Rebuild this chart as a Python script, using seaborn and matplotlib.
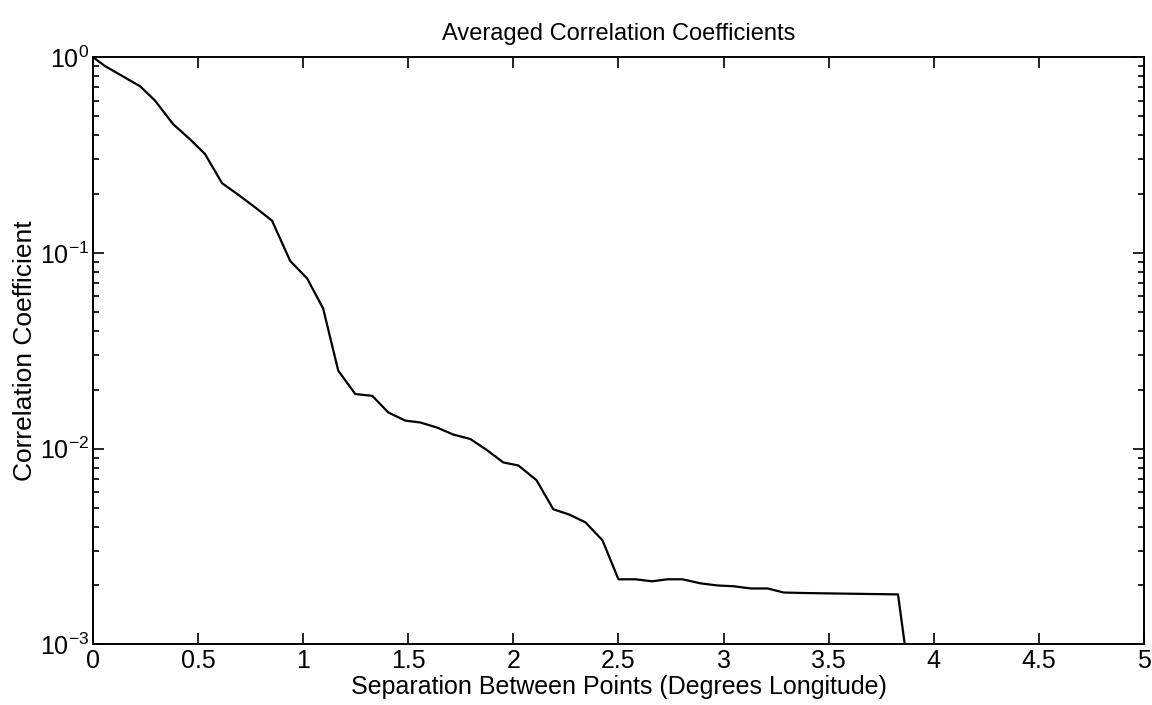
import numpy as np
import pandas as pd
import matplotlib
matplotlib.use("Agg")
import matplotlib.pyplot as plt
import seaborn as sns
from matplotlib.ticker import LogLocator, FixedFormatter, FixedLocator

# Data
separation = [0.0, 0.057, 0.224, 0.295, 0.381, 0.462, 0.533, 0.614, 0.70, 0.78, 0.852,
              0.938, 1.019, 1.095, 1.167, 1.248, 1.329, 1.405, 1.486, 1.557, 1.638,
              1.714, 1.795, 1.876, 1.952, 2.024, 2.11, 2.19, 2.267, 2.343, 2.424,
              2.50, 2.58, 2.66, 2.733, 2.805, 2.89, 2.97, 3.05, 3.13, 3.21, 3.286,
              3.38, 3.52, 3.83, 3.90]
correlation = [1.0, 0.90, 0.71, 0.60, 0.455, 0.38, 0.32, 0.227, 0.195, 0.168, 0.146,
               0.091, 0.074, 0.052, 0.025, 0.019, 0.0186, 0.0153, 0.0139, 0.0136, 0.0128,
               0.0118, 0.0112, 0.0098, 0.0085, 0.0082, 0.0069, 0.0049, 0.0046, 0.0042, 0.0034,
               0.00215, 0.00215, 0.0021, 0.00215, 0.00215, 0.00205, 0.0020, 0.00198, 0.00193,
               0.00193, 0.00184, 0.00183, 0.00182, 0.0018, 0.0005]
x_ticks = [0, 0.5, 1, 1.5, 2, 2.5, 3, 3.5, 4, 4.5, 5]
x_tick_labels = ["0", "0.5", "1", "1.5", "2", "2.5", "3", "3.5", "4", "4.5", "5"]
y_ticks = [1e-3, 1e-2, 1e-1, 1e0]
y_tick_labels = ["10$^{-3}$", "10$^{-2}$", "10$^{-1}$", "10$^{0}$"]

sns.set_style("ticks")
plt.rcParams['font.family'] = ['Liberation Sans', 'DejaVu Sans']
plt.rcParams['mathtext.fontset'] = 'custom'
plt.rcParams['mathtext.rm'] = 'Liberation Sans'
plt.rcParams['mathtext.it'] = 'Liberation Sans'
plt.rcParams['text.color'] = 'black'
plt.rcParams['axes.labelcolor'] = 'black'

df = pd.DataFrame({"sep": separation, "corr": correlation})

fig = plt.figure(figsize=(11.52, 7.05), dpi=100)
ax = fig.add_axes([0.0807, 0.0860, 0.9123, 0.833])
sns.lineplot(data=df, x="sep", y="corr", ax=ax, color="black", linewidth=1.6,
             estimator=None, sort=False)
ax.set_yscale("log")
ax.set_xlim(0, 5)
ax.set_ylim(1e-3, 1e0)

ax.xaxis.set_major_locator(FixedLocator(x_ticks))
ax.xaxis.set_major_formatter(FixedFormatter(x_tick_labels))
ax.yaxis.set_major_locator(FixedLocator(y_ticks))
ax.yaxis.set_major_formatter(FixedFormatter(y_tick_labels))
ax.yaxis.set_minor_locator(LogLocator(base=10, subs=np.arange(2, 10), numticks=20))

ax.tick_params(which="both", direction="in", top=True, right=True, colors="black",
               width=1.2)
ax.tick_params(which="major", length=8, labelsize=18, pad=3)
ax.tick_params(which="minor", length=4.5)
for s in ax.spines.values():
    s.set_color("black")
    s.set_linewidth(1.4)

ax.set_xlabel("Separation Between Points (Degrees Longitude)", fontsize=18, labelpad=2,
              color="black")
ax.set_ylabel("Correlation Coefficient", fontsize=19, labelpad=2, color="black")
ax.set_title("Averaged Correlation Coefficients", fontsize=17, pad=12, color="black")

fig.savefig("out.png", dpi=100)
